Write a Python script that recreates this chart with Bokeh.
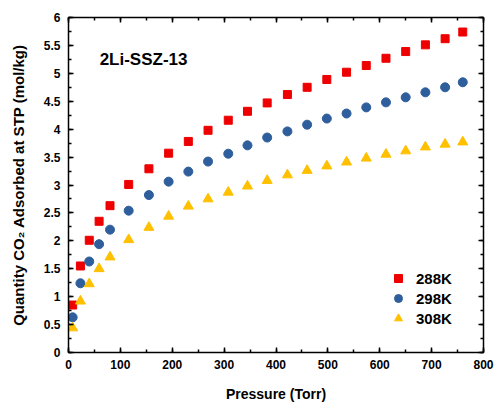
from bokeh.plotting import figure
from bokeh.models import (LinearAxis, SingleIntervalTicker, NumeralTickFormatter,
                          Range1d, Legend, LegendItem, Label)
from bokeh.embed import file_html
from bokeh.resources import INLINE

pressure = [8, 23, 40, 59, 80, 116, 155, 193, 231, 269, 308, 345, 383, 422,
            460, 498, 536, 574, 612, 650, 688, 726, 760]
q_288 = [0.85, 1.55, 2.01, 2.35, 2.63, 3.01, 3.29, 3.57, 3.78, 3.98, 4.16, 4.32,
         4.47, 4.62, 4.75, 4.89, 5.02, 5.14, 5.27, 5.39, 5.51, 5.62, 5.74]
q_298 = [0.63, 1.24, 1.63, 1.94, 2.20, 2.54, 2.82, 3.06, 3.24, 3.42, 3.56, 3.71,
         3.85, 3.96, 4.08, 4.19, 4.28, 4.39, 4.48, 4.57, 4.66, 4.75, 4.84]
q_308 = [0.44, 0.92, 1.23, 1.50, 1.71, 2.02, 2.24, 2.44, 2.62, 2.75, 2.87, 2.98,
         3.08, 3.18, 3.26, 3.34, 3.41, 3.48, 3.55, 3.61, 3.68, 3.73, 3.77]
series_labels = ["288K", "298K", "308K"]
title_text = "2Li-SSZ-13"

FONT = "Liberation Sans"

p = figure(width=495, height=404, output_backend="svg", toolbar_location=None,
           x_range=Range1d(0, 800), y_range=Range1d(0, 6),
           min_border_left=68, min_border_right=12, min_border_top=17,
           min_border_bottom=52)
p.xgrid.visible = False
p.ygrid.visible = False
p.outline_line_color = None
p.background_fill_color = "white"
p.border_fill_color = "white"

r1 = p.scatter(pressure, q_288, marker="square", size=8, color="#ee0000")
r2 = p.scatter(pressure, q_298, marker="circle", size=9, color="#2e5e9c")
r3 = p.scatter(pressure, q_308, marker="triangle", size=10, color="#ffc000")

def style_axis(ax, show_labels):
    ax.axis_line_color = "black"
    ax.axis_line_width = 1.5
    ax.major_tick_in = 5
    ax.major_tick_out = 0
    ax.minor_tick_in = 3
    ax.minor_tick_out = 0
    ax.major_tick_line_color = "black"
    ax.minor_tick_line_color = "black"
    ax.major_tick_line_width = 1.5
    ax.minor_tick_line_width = 1.5
    if show_labels:
        ax.major_label_text_font = FONT
        ax.major_label_text_font_style = "bold"
        ax.major_label_text_font_size = "12px"
        ax.major_label_text_color = "black"
        ax.axis_label_text_font = FONT
        ax.axis_label_text_font_style = "bold"
        ax.axis_label_text_font_size = "14px"
        ax.axis_label_text_color = "black"
    else:
        ax.major_label_text_font_size = "0px"
        ax.major_label_text_color = None

xt = SingleIntervalTicker(interval=100, num_minor_ticks=2)
yt = SingleIntervalTicker(interval=0.5, num_minor_ticks=2)

p.xaxis.ticker = xt
p.yaxis.ticker = yt
p.yaxis.formatter = NumeralTickFormatter(format="0.[0]")
style_axis(p.xaxis[0], True)
style_axis(p.yaxis[0], True)
p.xaxis.axis_label = "Pressure (Torr)"
p.yaxis.axis_label = "Quantity CO\u2082 Adsorbed at STP (mol/kg)"
p.yaxis.axis_label_text_font_size = "15px"
p.xaxis.major_label_standoff = 7
p.xaxis.axis_label_standoff = 14
p.yaxis.major_label_standoff = 8
p.yaxis.axis_label_standoff = 14

top = LinearAxis(ticker=SingleIntervalTicker(interval=100, num_minor_ticks=2))
right = LinearAxis(ticker=SingleIntervalTicker(interval=0.5, num_minor_ticks=2))
style_axis(top, False)
style_axis(right, False)
p.add_layout(top, "above")
p.add_layout(right, "right")

p.add_layout(Label(x=60, y=5.25, text=title_text, text_font=FONT,
                   text_font_style="bold", text_font_size="17px",
                   text_baseline="middle", text_color="black"))

legend = Legend(items=[LegendItem(label=series_labels[0], renderers=[r1]),
                       LegendItem(label=series_labels[1], renderers=[r2]),
                       LegendItem(label=series_labels[2], renderers=[r3])],
                location=(320, 24), padding=0, margin=0, spacing=0,
                glyph_width=20, glyph_height=20, label_height=20,
                label_standoff=8, border_line_color=None,
                background_fill_alpha=0,
                label_text_font=FONT, label_text_font_style="bold",
                label_text_font_size="15px", label_text_color="black")
p.add_layout(legend)

open("out.html", "w").write(file_html(p, INLINE))
